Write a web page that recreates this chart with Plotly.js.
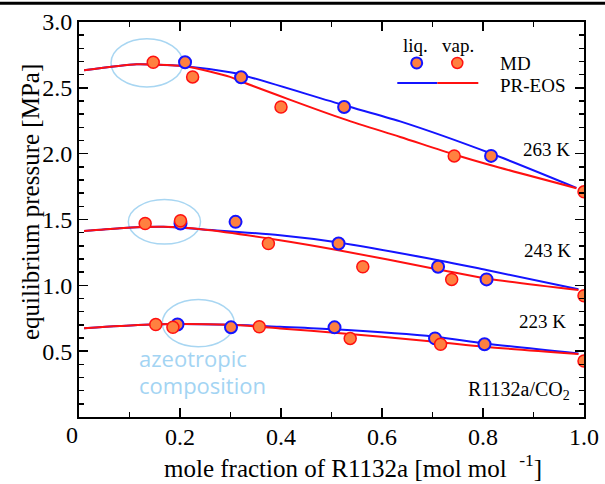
<!DOCTYPE html>
<html>
<head>
<meta charset="utf-8">
<script src="https://cdn.plot.ly/plotly-3.0.1.min.js"></script>
<style>html,body{margin:0;padding:0;background:#fff;}#chart{width:605px;height:484px;}</style>
</head>
<body>
<div id="chart"></div>
<script>
// ---- MD data: 263 K ----
const x263Vap = [0.147, 0.225, 0.400, 0.743, 1.000];
const p263Vap = [2.694, 2.583, 2.355, 1.983, 1.710];
const x263Liq = [0.210, 0.321, 0.525, 0.816];
const p263Liq = [2.694, 2.580, 2.355, 1.983];
// ---- MD data: 243 K ----
const x243Vap = [0.131, 0.201, 0.375, 0.562, 0.738, 1.000];
const p243Vap = [1.470, 1.490, 1.318, 1.141, 1.045, 0.921];
const x243Liq = [0.201, 0.310, 0.514, 0.711, 0.807];
const p243Liq = [1.470, 1.482, 1.318, 1.141, 1.045];
// ---- MD data: 223 K ----
const x223Vap = [0.152, 0.186, 0.357, 0.537, 0.716, 1.000];
const p223Vap = [0.703, 0.681, 0.685, 0.597, 0.552, 0.425];
const x223Liq = [0.195, 0.301, 0.506, 0.705, 0.803];
const p223Liq = [0.703, 0.681, 0.681, 0.597, 0.552];

// ---- PR-EOS curves ----
const xEos263Liq = [0.010, 0.114, 0.147, 0.210, 0.299, 0.321, 0.525, 0.636, 0.816, 0.985];
const pEos263Liq = [2.633, 2.679, 2.677, 2.664, 2.618, 2.600, 2.368, 2.245, 2.001, 1.740];
const xEos263Vap = [0.010, 0.114, 0.147, 0.210, 0.299, 0.321, 0.525, 0.636, 0.743, 0.816, 0.985];
const pEos263Vap = [2.633, 2.679, 2.677, 2.664, 2.583, 2.548, 2.262, 2.127, 1.994, 1.912, 1.738];

const xEos243Liq = [0.010, 0.081, 0.167, 0.246, 0.398, 0.514, 0.711, 0.807, 0.989];
const pEos243Liq = [1.412, 1.434, 1.444, 1.424, 1.381, 1.326, 1.191, 1.116, 0.971];
const xEos243Vap = [0.010, 0.081, 0.167, 0.246, 0.398, 0.514, 0.711, 0.807, 0.989];
const pEos243Vap = [1.412, 1.434, 1.444, 1.424, 1.343, 1.267, 1.121, 1.052, 0.964];

const xEos223Liq = [0.010, 0.081, 0.180, 0.299, 0.398, 0.506, 0.705, 0.803, 0.989];
const pEos223Liq = [0.675, 0.691, 0.706, 0.700, 0.685, 0.666, 0.610, 0.559, 0.483];
const xEos223Vap = [0.010, 0.081, 0.180, 0.299, 0.398, 0.506, 0.705, 0.803, 0.989];
const pEos223Vap = [0.675, 0.691, 0.706, 0.700, 0.673, 0.640, 0.572, 0.534, 0.478];

// ---- axis ticks ----
const xTickVals = [0.2, 0.4, 0.6, 0.8, 1.0];
const xTickText = ['0.2', '0.4', '0.6', '0.8', '1.0'];
const yTickVals = [0.5, 1.0, 1.5, 2.0, 2.5, 3.0];
const yTickText = ['0.5', '1.0', '1.5', '2.0', '2.5', '3.0'];

// ---- labels ----
const tempLabels = ['263 K', '243 K', '223 K'];
const tempLabelY = [2.034, 1.267, 0.723];
const tempLabelX = [0.976, 0.978, 0.969];

// ---- azeotrope ellipses [x0, x1, y0, y1] ----
const azeoX0 = [0.0634, 0.0977, 0.1650];
const azeoX1 = [0.2055, 0.2406, 0.3075];
const azeoY0 = [2.506, 1.313, 0.534];
const azeoY1 = [2.873, 1.651, 0.893];

const BLUE = '#1414ff', RED = '#ff1010', FILL = '#ff8040', LIGHT = '#a8d6f2';
const SERIF = 'Liberation Serif, Times New Roman, serif';

function eos(x, y, color) {
  return {x: x, y: y, type: 'scatter', mode: 'lines', line: {color: color, width: 2, shape: 'spline', smoothing: 0.8},
          hoverinfo: 'skip', showlegend: false};
}
function md(x, y, edge, w) {
  return {x: x, y: y, type: 'scatter', mode: 'markers',
          marker: {size: 12, color: FILL, line: {color: edge, width: w}}, showlegend: false};
}

const data = [
  eos(xEos263Liq, pEos263Liq, BLUE), eos(xEos263Vap, pEos263Vap, RED),
  eos(xEos243Liq, pEos243Liq, BLUE), eos(xEos243Vap, pEos243Vap, RED),
  eos(xEos223Liq, pEos223Liq, BLUE), eos(xEos223Vap, pEos223Vap, RED),
  md(x263Liq, p263Liq, BLUE, 2), md(x263Vap, p263Vap, RED, 1.5),
  md(x243Liq, p243Liq, BLUE, 2), md(x243Vap, p243Vap, RED, 1.5),
  md(x223Liq, p223Liq, BLUE, 2), md(x223Vap, p223Vap, RED, 1.5)
];

const shapes = [];
for (let i = 0; i < azeoX0.length; i++) {
  shapes.push({type: 'circle', xref: 'x', yref: 'y', x0: azeoX0[i], x1: azeoX1[i], y0: azeoY0[i], y1: azeoY1[i],
               line: {color: LIGHT, width: 1.5}, layer: 'below'});
}
// legend symbols (paper-positioned decoration)
shapes.push({type: 'circle', xref: 'paper', yref: 'paper', xsizemode: 'pixel', ysizemode: 'pixel',
             xanchor: 0.6687, yanchor: 0.8963, x0: -5.5, x1: 5.5, y0: -5.5, y1: 5.5,
             fillcolor: FILL, line: {color: BLUE, width: 2}});
shapes.push({type: 'circle', xref: 'paper', yref: 'paper', xsizemode: 'pixel', ysizemode: 'pixel',
             xanchor: 0.7491, yanchor: 0.8963, x0: -5.5, x1: 5.5, y0: -5.5, y1: 5.5,
             fillcolor: FILL, line: {color: RED, width: 1.5}});
shapes.push({type: 'line', xref: 'paper', yref: 'paper', x0: 0.6303, x1: 0.7095, y0: 0.8457, y1: 0.8457,
             line: {color: BLUE, width: 2}});
shapes.push({type: 'line', xref: 'paper', yref: 'paper', x0: 0.7095, x1: 0.7907, y0: 0.8457, y1: 0.8457,
             line: {color: RED, width: 2}});
// top rule of the page
shapes.push({type: 'line', xref: 'paper', yref: 'paper', x0: -0.16, x1: 1.05, y0: 1.0475, y1: 1.0475,
             line: {color: '#000', width: 3}});

const ann = [];
const f19 = {family: SERIF, size: 19, color: '#000'};
const f24 = {family: SERIF, size: 24, color: '#000'};
const f25 = {family: SERIF, size: 25, color: '#000'};
for (let i = 0; i < tempLabels.length; i++) {
  ann.push({text: tempLabels[i], x: tempLabelX[i], y: tempLabelY[i], xref: 'paper', yref: 'y',
            xanchor: 'right', yanchor: 'middle', showarrow: false, font: f19});
}
ann.push({text: 'R1132a/CO<sub>2</sub>', x: 0.976, y: 0.205, xref: 'paper', yref: 'y',
          xanchor: 'right', yanchor: 'middle', showarrow: false, font: {family: SERIF, size: 20, color: '#000'}});
ann.push({text: 'azeotropic', x: 0.1149, y: 0.445, xref: 'paper', yref: 'y', xanchor: 'left', yanchor: 'middle',
          showarrow: false, font: {family: 'Open Sans, sans-serif', size: 22, color: '#a3d4f3'}});
ann.push({text: 'composition', x: 0.1149, y: 0.243, xref: 'paper', yref: 'y', xanchor: 'left', yanchor: 'middle',
          showarrow: false, font: {family: 'Open Sans, sans-serif', size: 22, color: '#a3d4f3'}});
// legend texts
ann.push({text: 'liq.', x: 0.6654, y: 0.9407, xref: 'paper', yref: 'paper', xanchor: 'center', yanchor: 'middle', showarrow: false, font: f19});
ann.push({text: 'vap.', x: 0.7499, y: 0.9407, xref: 'paper', yref: 'paper', xanchor: 'center', yanchor: 'middle', showarrow: false, font: f19});
ann.push({text: 'MD', x: 0.8297, y: 0.8947, xref: 'paper', yref: 'paper', xanchor: 'left', yanchor: 'middle', showarrow: false, font: f19});
ann.push({text: 'PR-EOS', x: 0.8297, y: 0.8399, xref: 'paper', yref: 'paper', xanchor: 'left', yanchor: 'middle', showarrow: false, font: f19});
// axis titles and the "0" tick label
ann.push({text: '0', x: -0.014, y: 0, xref: 'paper', yref: 'paper', xanchor: 'center', yanchor: 'middle', yshift: -18,
          showarrow: false, font: f24});
ann.push({text: 'mole fraction of R1132a [mol mol  <sup>-1</sup>]', x: 0.5426, y: 0, xref: 'paper', yref: 'paper',
          xanchor: 'center', yanchor: 'middle', yshift: -49, showarrow: false, font: f25});
ann.push({text: 'equilibrium pressure [MPa]', x: 0, y: 0.544, xref: 'paper', yref: 'paper', xshift: -49,
          xanchor: 'center', yanchor: 'middle', textangle: -90, showarrow: false, font: f25});

const axisCommon = {
  showline: true, linecolor: '#000', linewidth: 2, mirror: 'allticks',
  ticks: 'inside', ticklen: 9, tickwidth: 1.5, tickcolor: '#000',
  showgrid: false, zeroline: false, tickfont: f24, fixedrange: true
};

const layout = {
  width: 605, height: 484,
  margin: {l: 79, r: 21, t: 22, b: 67, pad: 0},
  paper_bgcolor: '#fff', plot_bgcolor: '#fff',
  showlegend: false,
  font: {family: SERIF, size: 19, color: '#000'},
  xaxis: Object.assign({}, axisCommon, {range: [0, 1], tickmode: 'array', tickvals: xTickVals, ticktext: xTickText,
    ticklabelstandoff: -3,
    minor: {dtick: 0.1, tick0: 0, ticks: 'inside', ticklen: 5, tickwidth: 1.5, tickcolor: '#000', showgrid: false}}),
  yaxis: Object.assign({}, axisCommon, {range: [0, 3], tickmode: 'array', tickvals: yTickVals, ticktext: yTickText,
    minor: {dtick: 0.1, tick0: 0, ticks: 'inside', ticklen: 5, tickwidth: 1.5, tickcolor: '#000', showgrid: false}}),
  shapes: shapes,
  annotations: ann
};

Plotly.newPlot('chart', data, layout, {displayModeBar: false, staticPlot: true});
</script>
</body>
</html>
